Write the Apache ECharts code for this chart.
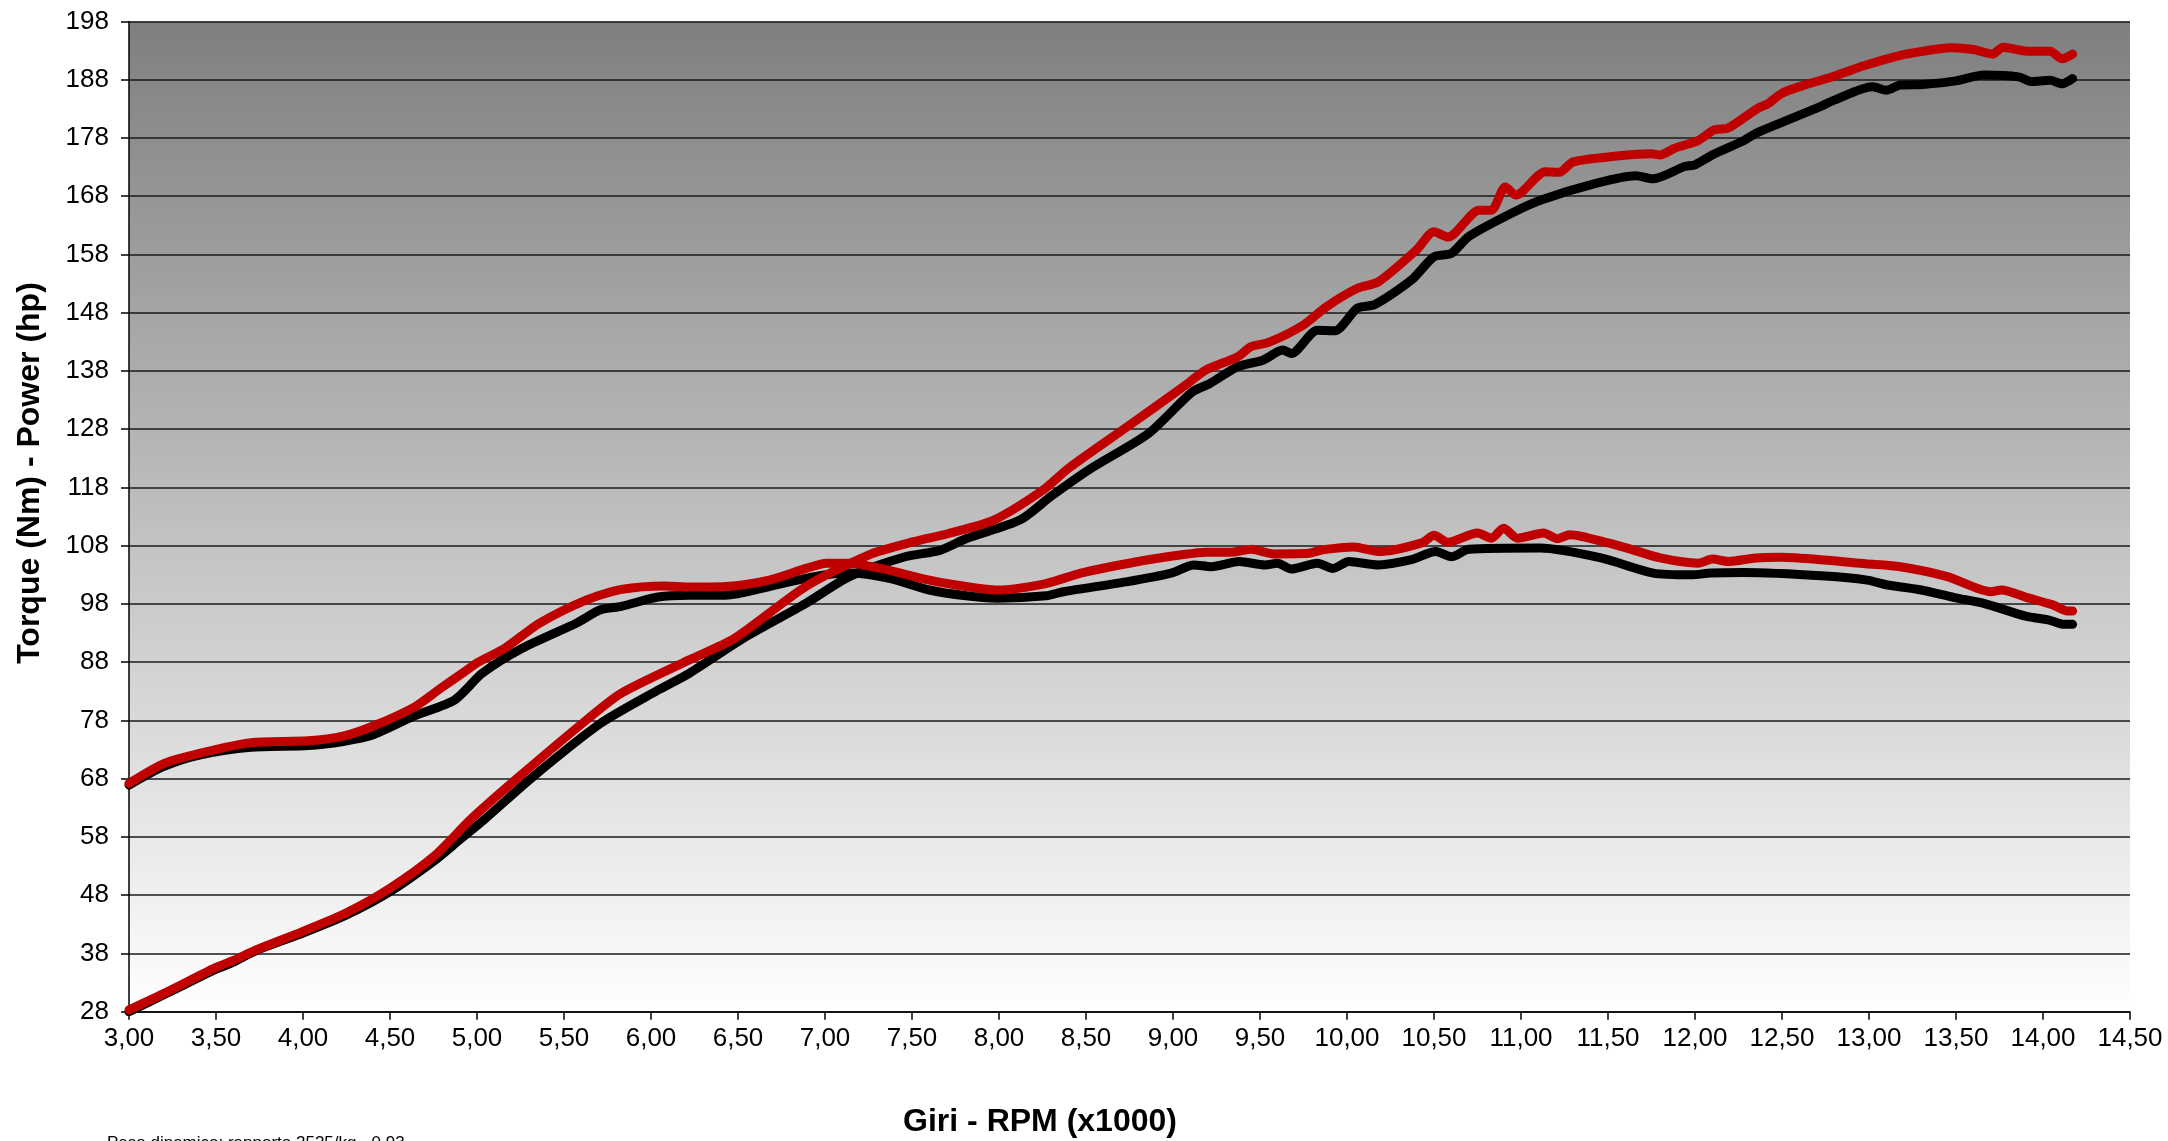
<!DOCTYPE html>
<html>
<head>
<meta charset="utf-8">
<script src="https://cdn.jsdelivr.net/npm/echarts@6/dist/echarts.min.js"></script>
<style>
html,body{margin:0;padding:0;background:#fff;}
#chart{width:2168px;height:1141px;}
</style>
</head>
<body>
<div id="chart"></div>
<script>
// ---- data (rpm x1000, value) ----
const torqueBlackRpm = [3.00,3.20,3.41,3.70,4.03,4.23,4.40,4.64,4.87,5.03,5.26,5.57,5.71,5.83,6.04,6.22,6.43,6.68,6.94,7.14,7.37,7.60,7.81,7.99,8.27,8.37,8.73,8.99,9.12,9.22,9.38,9.53,9.60,9.68,9.83,9.92,10.01,10.18,10.37,10.51,10.60,10.70,11.11,11.46,11.76,11.98,12.09,12.28,12.75,12.99,13.10,13.30,13.49,13.66,13.90,14.04,14.12,14.17];
const torqueBlack    = [66.9,70.1,72.1,73.4,73.7,74.4,75.5,78.8,81.5,86.1,90.4,94.7,97.0,97.6,99.2,99.5,99.5,101.0,102.7,103.3,102.4,100.4,99.4,99.0,99.4,100.1,101.8,103.3,104.7,104.4,105.3,104.7,105.0,104.0,105.0,104.1,105.3,104.7,105.6,107.0,106.1,107.4,107.6,105.9,103.3,103.0,103.3,103.4,102.8,102.1,101.3,100.4,99.1,98.1,95.9,95.2,94.5,94.5];

const torqueRedRpm = [3.00,3.20,3.41,3.70,4.03,4.23,4.40,4.64,4.79,4.93,5.00,5.16,5.36,5.63,5.83,6.08,6.22,6.43,6.68,6.89,7.01,7.14,7.32,7.60,7.81,7.99,8.27,8.47,8.80,9.04,9.19,9.34,9.45,9.58,9.78,9.86,10.04,10.18,10.43,10.50,10.58,10.75,10.83,10.90,10.98,11.13,11.21,11.28,11.50,11.61,11.80,12.02,12.10,12.19,12.35,12.49,12.76,12.98,13.18,13.45,13.70,13.76,13.92,14.06,14.14,14.17];
const torqueRed    = [67.2,70.6,72.4,74.2,74.5,75.3,77.0,80.3,83.5,86.4,87.9,90.4,94.7,98.7,100.5,101.1,100.9,101.0,102.1,104.1,105.0,105.0,104.1,102.1,101.0,100.4,101.5,103.3,105.3,106.4,106.9,106.9,107.4,106.6,106.7,107.3,107.8,107.0,108.5,109.8,108.6,110.2,109.3,111.0,109.3,110.2,109.2,109.9,108.5,107.6,105.9,105.0,105.7,105.3,105.9,106.0,105.5,104.9,104.4,102.7,100.1,100.4,99.0,97.8,96.8,96.8];

const powerBlackRpm = [3.00,3.22,3.50,3.60,3.73,4.00,4.25,4.50,4.75,4.90,5.05,5.32,5.71,6.04,6.22,6.53,6.89,7.14,7.46,7.66,7.81,8.12,8.30,8.53,8.86,9.11,9.21,9.37,9.52,9.63,9.68,9.83,9.93,10.06,10.16,10.37,10.50,10.60,10.70,10.96,11.12,11.43,11.66,11.76,11.94,12.00,12.10,12.27,12.35,12.51,12.72,12.80,13.02,13.10,13.18,13.31,13.50,13.66,13.86,13.93,14.04,14.11,14.17];
const powerBlack    = [28.0,31.2,35.3,36.5,38.5,41.5,44.6,48.6,53.8,57.5,61.2,68.3,77.5,83.2,86.1,92.1,98.1,102.7,106.1,107.2,109.2,112.4,116.5,121.3,127.3,134.4,135.8,138.7,139.9,141.6,141.0,145.0,144.9,148.8,149.4,153.6,157.6,158.2,161.1,165.3,167.4,170.2,171.5,171.0,173.1,173.4,175.1,177.4,178.8,180.8,183.4,184.5,186.8,186.2,187.1,187.2,187.8,188.8,188.5,187.7,187.9,187.3,188.2];

const powerRedRpm = [3.00,3.22,3.50,3.60,3.73,4.00,4.25,4.50,4.75,4.97,5.24,5.63,5.83,6.22,6.48,6.89,7.25,7.51,7.71,7.97,8.25,8.40,8.75,9.06,9.19,9.37,9.45,9.55,9.75,9.88,10.06,10.18,10.40,10.50,10.58,10.76,10.83,10.91,10.97,11.14,11.22,11.30,11.55,11.75,11.80,11.88,12.02,12.11,12.19,12.36,12.42,12.50,12.63,12.79,12.97,13.18,13.31,13.47,13.60,13.71,13.77,13.91,14.04,14.11,14.17];
const powerRed    = [28.3,31.4,35.6,36.8,38.6,41.8,45.0,49.2,54.6,61.2,68.3,78.1,82.7,88.4,92.1,101.0,106.4,108.7,110.1,112.4,117.5,121.3,128.7,135.3,138.2,140.4,142.2,142.9,145.9,149.0,152.2,153.3,158.8,161.9,161.0,165.6,165.6,169.6,168.2,172.2,172.1,173.9,174.9,175.3,175.1,176.2,177.6,179.4,179.7,183.1,183.9,185.7,187.1,188.5,190.4,192.2,192.9,193.5,193.2,192.4,193.6,192.9,192.9,191.6,192.4];

const xTitle = 'Giri - RPM (x1000)';
const yTitle = 'Torque (Nm) - Power (hp)';
const footNote = 'Peso dinamico: rapporto 2525/kg - 0,93';

const pair = (xs, ys) => xs.map((x, i) => [x, ys[i]]);

const chart = echarts.init(document.getElementById('chart'), null, {renderer: 'canvas'});
const FONT = '"Liberation Sans", Arial, sans-serif';

function lineSeries(name, data, color) {
  return {
    name, type: 'line', data, showSymbol: false, smooth: 0.25,
    lineStyle: {color, width: 9, cap: 'round', join: 'round'},
    emphasis: {disabled: true}, animation: false, z: color === '#000000' ? 2 : 3
  };
}

chart.setOption({
  animation: false,
  backgroundColor: '#ffffff',
  grid: {
    left: 129, right: 38, top: 21.5, bottom: 129.3,
    show: true, borderWidth: 0,
    backgroundColor: {
      type: 'linear', x: 0, y: 0, x2: 0, y2: 1,
      colorStops: [{offset: 0, color: '#7f7f7f'}, {offset: 1, color: '#ffffff'}]
    }
  },
  xAxis: {
    type: 'value', min: 3, max: 14.5, interval: 0.5,
    axisLine: {show: true, onZero: false, lineStyle: {color: '#000', width: 1.5}},
    axisTick: {show: true, length: 8, lineStyle: {color: '#000', width: 1.5}},
    axisLabel: {
      color: '#000', fontSize: 26, fontFamily: FONT, margin: 14,
      formatter: v => v.toFixed(2).replace('.', ',')
    },
    splitLine: {show: false}
  },
  yAxis: {
    type: 'value', min: 28, max: 198, interval: 10,
    axisLine: {show: true, lineStyle: {color: '#000', width: 1.5}},
    axisTick: {show: true, length: 8, lineStyle: {color: '#000', width: 1.5}},
    axisLabel: {color: '#000', fontSize: 26, fontFamily: FONT, margin: 20},
    splitLine: {show: true, lineStyle: {color: '#1a1a1a', width: 1.5}}
  },
  graphic: [
    {type: 'text', x: 30, y: 473, rotation: Math.PI / 2,
     style: {text: yTitle, font: 'bold 32px ' + FONT, fill: '#000', align: 'center', verticalAlign: 'middle'}},
    {type: 'text', x: 1040, y: 1122,
     style: {text: xTitle, font: 'bold 32px ' + FONT, fill: '#000', align: 'center', verticalAlign: 'middle'}},
    {type: 'text', x: 107, y: 1135,
     style: {text: footNote, font: '17px ' + FONT, fill: '#000', align: 'left', verticalAlign: 'top'}}
  ],
  series: [
    lineSeries('Torque 1', pair(torqueBlackRpm, torqueBlack), '#000000'),
    lineSeries('Power 1', pair(powerBlackRpm, powerBlack), '#000000'),
    lineSeries('Torque 2', pair(torqueRedRpm, torqueRed), '#c00000'),
    lineSeries('Power 2', pair(powerRedRpm, powerRed), '#c00000')
  ]
});
</script>
</body>
</html>
